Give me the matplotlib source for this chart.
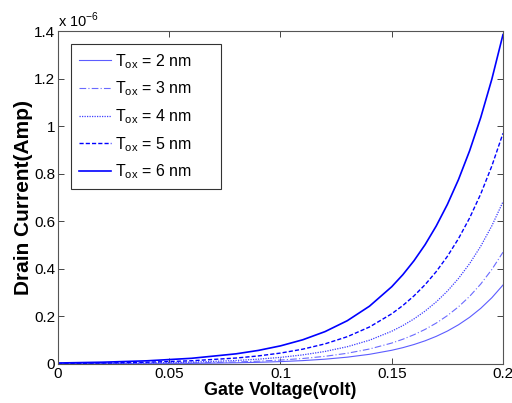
import matplotlib
matplotlib.use("Agg")
import matplotlib.pyplot as plt
from matplotlib.ticker import FuncFormatter

plt.rcParams['font.family'] = ['Liberation Sans', 'DejaVu Sans']

# Gate voltage (V)
gate_voltage = [0, 0.02, 0.04, 0.06, 0.08, 0.09, 0.10, 0.11, 0.12, 0.13, 0.14,
                0.15, 0.155, 0.16, 0.165, 0.17, 0.175, 0.18, 0.185, 0.19, 0.195, 0.2]

# Drain current in units of 1e-6 A, one list per oxide thickness
current_tox2 = [0.0003, 0.0006, 0.0012, 0.0025, 0.0050, 0.0071, 0.0100, 0.0142, 0.0202,
                0.0287, 0.0407, 0.0577, 0.0687, 0.0819, 0.0975, 0.1162, 0.1384, 0.1649,
                0.1964, 0.2340, 0.2787, 0.332]
current_tox3 = [0.0006, 0.0011, 0.0022, 0.0043, 0.0084, 0.0118, 0.0165, 0.0231, 0.0322,
                0.0451, 0.0630, 0.0880, 0.1041, 0.1231, 0.1455, 0.1720, 0.2034, 0.2405,
                0.2844, 0.3362, 0.3975, 0.470]
current_tox4 = [0.0011, 0.0022, 0.0041, 0.0077, 0.0147, 0.0202, 0.0278, 0.0383, 0.0527,
                0.0726, 0.1000, 0.1377, 0.1616, 0.1896, 0.2225, 0.2611, 0.3064, 0.3596,
                0.4220, 0.4952, 0.5811, 0.682]
current_tox5 = [0.0022, 0.0040, 0.0074, 0.0136, 0.0250, 0.0339, 0.0459, 0.0623, 0.0846,
                0.1147, 0.1556, 0.2111, 0.2459, 0.2864, 0.3336, 0.3885, 0.4525, 0.5271,
                0.6139, 0.7150, 0.8328, 0.970]
current_tox6 = [0.0042, 0.0075, 0.0134, 0.0239, 0.0427, 0.0570, 0.0762, 0.1018, 0.1361,
                0.1819, 0.2431, 0.3249, 0.3756, 0.4342, 0.5019, 0.5803, 0.6708, 0.7755,
                0.8965, 1.0364, 1.1980, 1.385]

labels = [r'T$_{\mathregular{ox}}$ = 2 nm', r'T$_{\mathregular{ox}}$ = 3 nm',
          r'T$_{\mathregular{ox}}$ = 4 nm', r'T$_{\mathregular{ox}}$ = 5 nm',
          r'T$_{\mathregular{ox}}$ = 6 nm']

x_ticks = [0, 0.05, 0.1, 0.15, 0.2]
y_ticks = [0, 0.2, 0.4, 0.6, 0.8, 1.0, 1.2, 1.4]

fig = plt.figure(figsize=(5.12, 4.03), dpi=100)
ax = fig.add_axes([0.1133, 0.0968, 0.8691, 0.8262])

series = [current_tox2, current_tox3, current_tox4, current_tox5, current_tox6]
styles = [
    dict(color='#5c5cff', lw=0.8, ls='-'),
    dict(color='#6a6aff', lw=0.8, ls=(0, (6, 2, 1, 2))),
    dict(color='#3c3cff', lw=0.9, ls=(0, (1, 1))),
    dict(color='#0000ff', lw=1.0, ls=(0, (3, 1.5))),
    dict(color='#0000ff', lw=1.2, ls='-'),
]
for ys, st, lab in zip(series, styles, labels):
    ax.plot(gate_voltage, ys, label=lab, **st)

ax.set_xlim(0, 0.2)
ax.set_ylim(0, 1.4)
ax.set_xticks(x_ticks)
ax.set_yticks(y_ticks)
fmt = FuncFormatter(lambda v, p: '%g' % v)
ax.xaxis.set_major_formatter(fmt)
ax.yaxis.set_major_formatter(fmt)
ax.tick_params(direction='in', length=4, width=0.7, color='#444444',
               top=True, right=True, labelsize=11, pad=2)
for s in ax.spines.values():
    s.set_color('#555555')
    s.set_linewidth(0.8)

ax.text(0.0, 1.003, r'x 10$^{\mathregular{-6}}$', transform=ax.transAxes,
        fontsize=10.5, ha='left', va='bottom')

ax.set_xlabel('Gate Voltage(volt)', fontsize=13, fontweight='bold', labelpad=1)
ax.set_ylabel('Drain Current(Amp)', fontsize=15, fontweight='bold', labelpad=1)

leg = ax.legend(loc='upper left', bbox_to_anchor=(0.029, 0.523, 0.337, 0.438),
                mode='expand', fontsize=11.5, frameon=True, fancybox=False,
                edgecolor='black', handlelength=2.0, labelspacing=0.56,
                borderpad=0.5, handletextpad=0.25, borderaxespad=0)
leg.get_frame().set_linewidth(0.8)

fig.savefig('out.png', dpi=100)
